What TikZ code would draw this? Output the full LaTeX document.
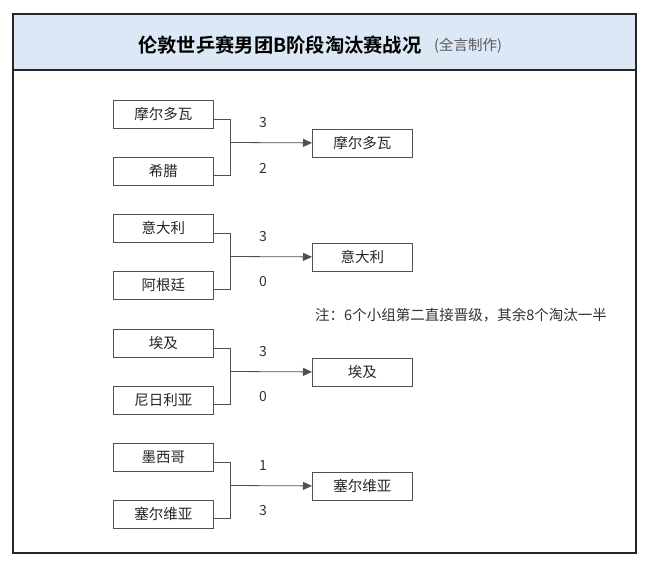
\documentclass[tikz,border=0pt]{standalone}
\usepackage{fontspec}
\setmainfont{Noto Sans CJK SC}
\newfontfamily\cjkb{Noto Sans CJK SC Bold}
\usetikzlibrary{arrows.meta}
\definecolor{headbg}{HTML}{DCE8F5}
\definecolor{linegray}{HTML}{505050}
\tikzset{
  team/.style={draw=linegray, line width=0.8pt, minimum width=100pt, minimum height=28pt, inner sep=0pt, font=\fontsize{14.5}{14.5}\selectfont, text=black!85},
  link/.style={draw=linegray, line width=0.8pt},
  arr/.style={link, -{Triangle[length=9pt,width=8pt]}},
  score/.style={font=\fontsize{14}{14}\selectfont, text=black!80}
}
\begin{document}
\begin{tikzpicture}[x=1pt,y=-1pt]
\useasboundingbox (0,0) rectangle (650,570);
\fill[white] (0,0) rectangle (650,570);
\fill[headbg] (13,14) rectangle (636,70);
\draw[line width=1.5pt, black!85] (13,14) rectangle (636,553);
\draw[line width=1.5pt, black!85] (13,70) -- (636,70);
\node[anchor=west, inner sep=0pt] (title) at (138,45) {\cjkb\fontsize{19.3}{19.3}\selectfont 伦敦世乒赛男团B阶段淘汰赛战况};
\node[anchor=west, inner sep=0pt, font=\fontsize{14.5}{14.5}\selectfont, text=black!65] (author) at (434,46) {(全言制作)};
% groups
\foreach \i/\a/\b/\w/\sa/\sb/\y in {1/摩尔多瓦/希腊/摩尔多瓦/3/2/100, 2/意大利/阿根廷/意大利/3/0/214, 3/埃及/尼日利亚/埃及/3/0/329, 4/墨西哥/塞尔维亚/塞尔维亚/1/3/443}{
  \node[team, anchor=north west] (a\i) at (113,\y) {\a};
  \node[team, anchor=north west] (b\i) at (113,\y+57) {\b};
  \node[team, anchor=north west] (w\i) at (312,\y+28.5) {\w};
  \coordinate (ja\i) at (230,\y+19);
  \coordinate (jb\i) at (230,\y+75);
  \coordinate (jm\i) at (230,\y+42.5);
  \draw[link] (a\i.east |- ja\i) -- (ja\i) -- (jb\i) -- (b\i.east |- jb\i);
  \draw[arr] (jm\i) -- (w\i.west);
  \node[score] (sa\i) at (263,\y+23) {\sa};
  \node[score] (sb\i) at (263,\y+68) {\sb};
}
\node[anchor=west, inner sep=0pt, font=\fontsize{14.5}{14.5}\selectfont, text=black!80] (note) at (315,315) {注：6个小组第二直接晋级，其余8个淘汰一半};
\end{tikzpicture}
\end{document}
